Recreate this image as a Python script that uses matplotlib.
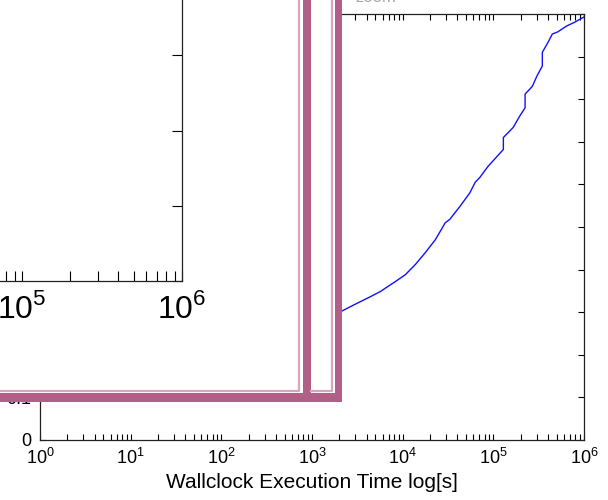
import matplotlib
matplotlib.use('Agg')
import matplotlib.pyplot as plt
from matplotlib.patches import Rectangle
from matplotlib.lines import Line2D

plt.rcParams['font.family'] = ['Liberation Sans', 'DejaVu Sans']
plt.rcParams['mathtext.fontset'] = 'custom'
plt.rcParams['mathtext.rm'] = 'Liberation Sans'

# wallclock time [s] vs. fraction of runs finished
wallclock = [1700, 2290, 2950, 4370, 5620, 8320, 10700, 13800, 17800, 22900,
             29500, 33100, 42700, 55000, 63100, 70800, 87100, 129000, 129000,
             166000, 195000, 224000, 224000, 269000, 302000, 347000, 347000,
             407000, 447000, 513000, 646000, 794000, 1000000]
fraction = [0.292, 0.306, 0.318, 0.336, 0.348, 0.372, 0.388, 0.412, 0.440, 0.470,
            0.510, 0.518, 0.548, 0.580, 0.605, 0.616, 0.642, 0.682, 0.710,
            0.734, 0.760, 0.780, 0.812, 0.830, 0.854, 0.878, 0.910,
            0.936, 0.953, 0.958, 0.972, 0.981, 0.993]
x_ticks = [1e0, 1e1, 1e2, 1e3, 1e4, 1e5, 1e6]
x_labels = ['$10^{0}$', '$10^{1}$', '$10^{2}$', '$10^{3}$', '$10^{4}$', '$10^{5}$', '$10^{6}$']
y_ticks = [0, 0.1, 0.2, 0.3, 0.4, 0.5, 0.6, 0.7, 0.8, 0.9, 1.0]
y_labels = ['0', '0.1', '', '', '', '', '', '', '', '', '']

W, H = 608, 500
dark = '#B15F86'
light = '#D9A4BD'


def fx(px):
    return px / W


def fy(py):
    return 1 - py / H


def style_axes(ax, size, pad, tlen):
    ax.set_xscale('log')
    ax.set_xlim(1, 1e6)
    ax.set_ylim(0, 1)
    ax.set_xticks(x_ticks)
    ax.set_yticks(y_ticks)
    ax.tick_params(which='both', direction='in', top=True, right=True,
                   labelsize=size, pad=pad, width=0.8, length=tlen)
    for s in ax.spines.values():
        s.set_linewidth(0.9)
        s.set_color('#222222')
    ax.plot(wallclock, fraction, color='#1010FF', linewidth=1.0)


fig = plt.figure(figsize=(W / 100, H / 100), dpi=100)

# main axes
ax = fig.add_axes([fx(40), fy(440), fx(584) - fx(40), fy(14) - fy(440)])
ax.set_zorder(0)
style_axes(ax, 13, 6, 4)
ax.set_xticklabels(x_labels)
ax.set_yticklabels(y_labels)
ax.set_xlabel('Wallclock Execution Time log[s]', fontsize=15, labelpad=3)

# white area of the pasted zoomed copy
fig.add_artist(Rectangle((fx(0), fy(393)), fx(335), fy(0) - fy(393),
                         transform=fig.transFigure, facecolor='white',
                         edgecolor='none', zorder=1))

# zoomed copy of the plot (1.76x), only its lower right corner is visible
scale = 1.765
iw, ih = 544 * scale, 426 * scale
ins = fig.add_axes([fx(182 - iw), fy(281), iw / W, ih / H])
ins.set_zorder(2)
ins.patch.set_alpha(0)
style_axes(ins, 23, 9, 7)
ins.set_xticklabels(['', '', '', '', '', x_labels[5], x_labels[6]])
ins.tick_params(labelleft=False)

# frames
for x0, x1, y0, y1 in [(303, 311, -5, 402), (335, 342, -5, 402), (-5, 342, 393, 402)]:
    fig.add_artist(Rectangle((fx(x0), fy(y1)), fx(x1) - fx(x0), fy(y0) - fy(y1),
                             transform=fig.transFigure, facecolor=dark,
                             edgecolor='none', zorder=3))
for xs, ys in [([-5, 299, 299], [391, 391, -5]), ([311, 332, 332], [391, 391, -5])]:
    fig.add_artist(Line2D([fx(v) for v in xs], [fy(v) for v in ys],
                          transform=fig.transFigure, color=light,
                          linewidth=1.6, zorder=3))

fig.text(fx(355), fy(2), 'zoom', color='#A8A8A8', fontsize=12,
         ha='left', va='baseline', zorder=4)

fig.savefig('out.png', dpi=100)
